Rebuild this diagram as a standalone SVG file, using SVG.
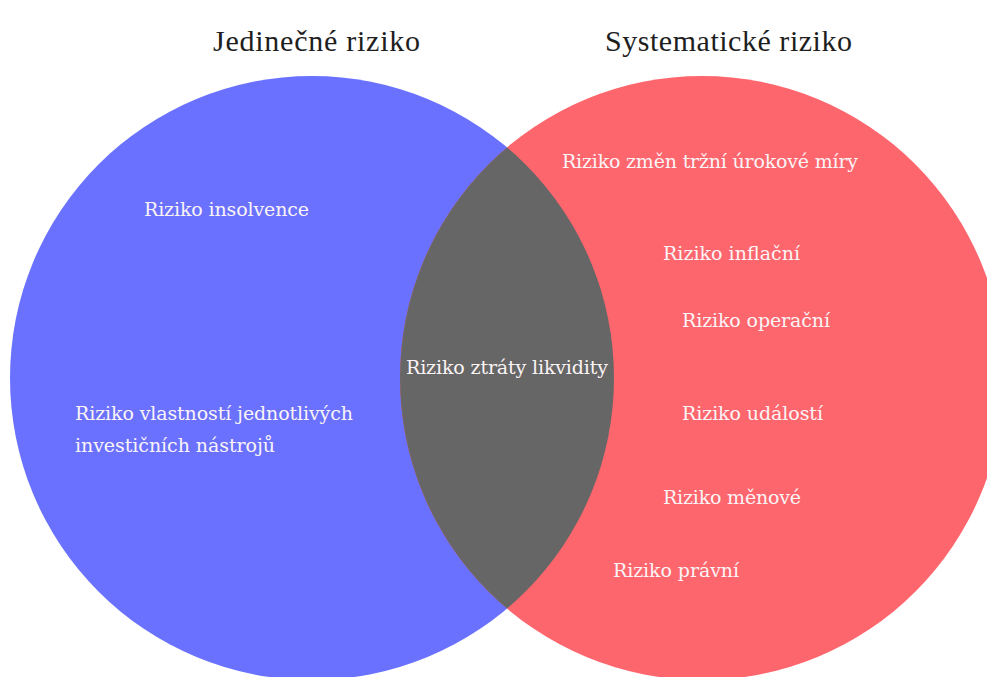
<svg xmlns="http://www.w3.org/2000/svg" width="987" height="677" viewBox="0 0 987 677">
<style>
.t{font-family:"DejaVu Serif","Liberation Serif",serif;font-size:19px;fill:#fbf4f6}
.h{font-family:"Liberation Serif","DejaVu Serif",serif;font-size:30px;fill:#1e1e1e}
</style>
<defs>
<clipPath id="cb"><circle cx="312" cy="378" r="302"/></clipPath>
</defs>
<rect width="987" height="677" fill="#ffffff"/>
<g id="jedinecne">
<circle cx="312" cy="378" r="302" fill="#6971fe"/>
<text class="h" x="213" y="51" textLength="207">Jedinečné riziko</text>
<text class="t" x="144" y="216" textLength="165">Riziko insolvence</text>
<text class="t" x="75" y="420" textLength="278">Riziko vlastností jednotlivých</text>
<text class="t" x="75" y="452" textLength="200">investičních nástrojů</text>
</g>
<g id="systematicke">
<circle cx="702" cy="378" r="302" fill="#fe666e"/>
<text class="h" x="605" y="51" textLength="247">Systematické riziko</text>
<text class="t" x="562" y="168" textLength="296">Riziko změn tržní úrokové míry</text>
<text class="t" x="663" y="260" textLength="137">Riziko inflační</text>
<text class="t" x="682" y="327" textLength="148">Riziko operační</text>
<text class="t" x="682" y="420" textLength="141">Riziko událostí</text>
<text class="t" x="663" y="504" textLength="138">Riziko měnové</text>
<text class="t" x="613" y="577" textLength="126">Riziko právní</text>
</g>
<g id="prunik">
<circle cx="702" cy="378" r="302" fill="#666666" clip-path="url(#cb)"/>
<text class="t" x="406" y="374" textLength="202">Riziko ztráty likvidity</text>
</g>
<g id="connectors"></g>
</svg>
